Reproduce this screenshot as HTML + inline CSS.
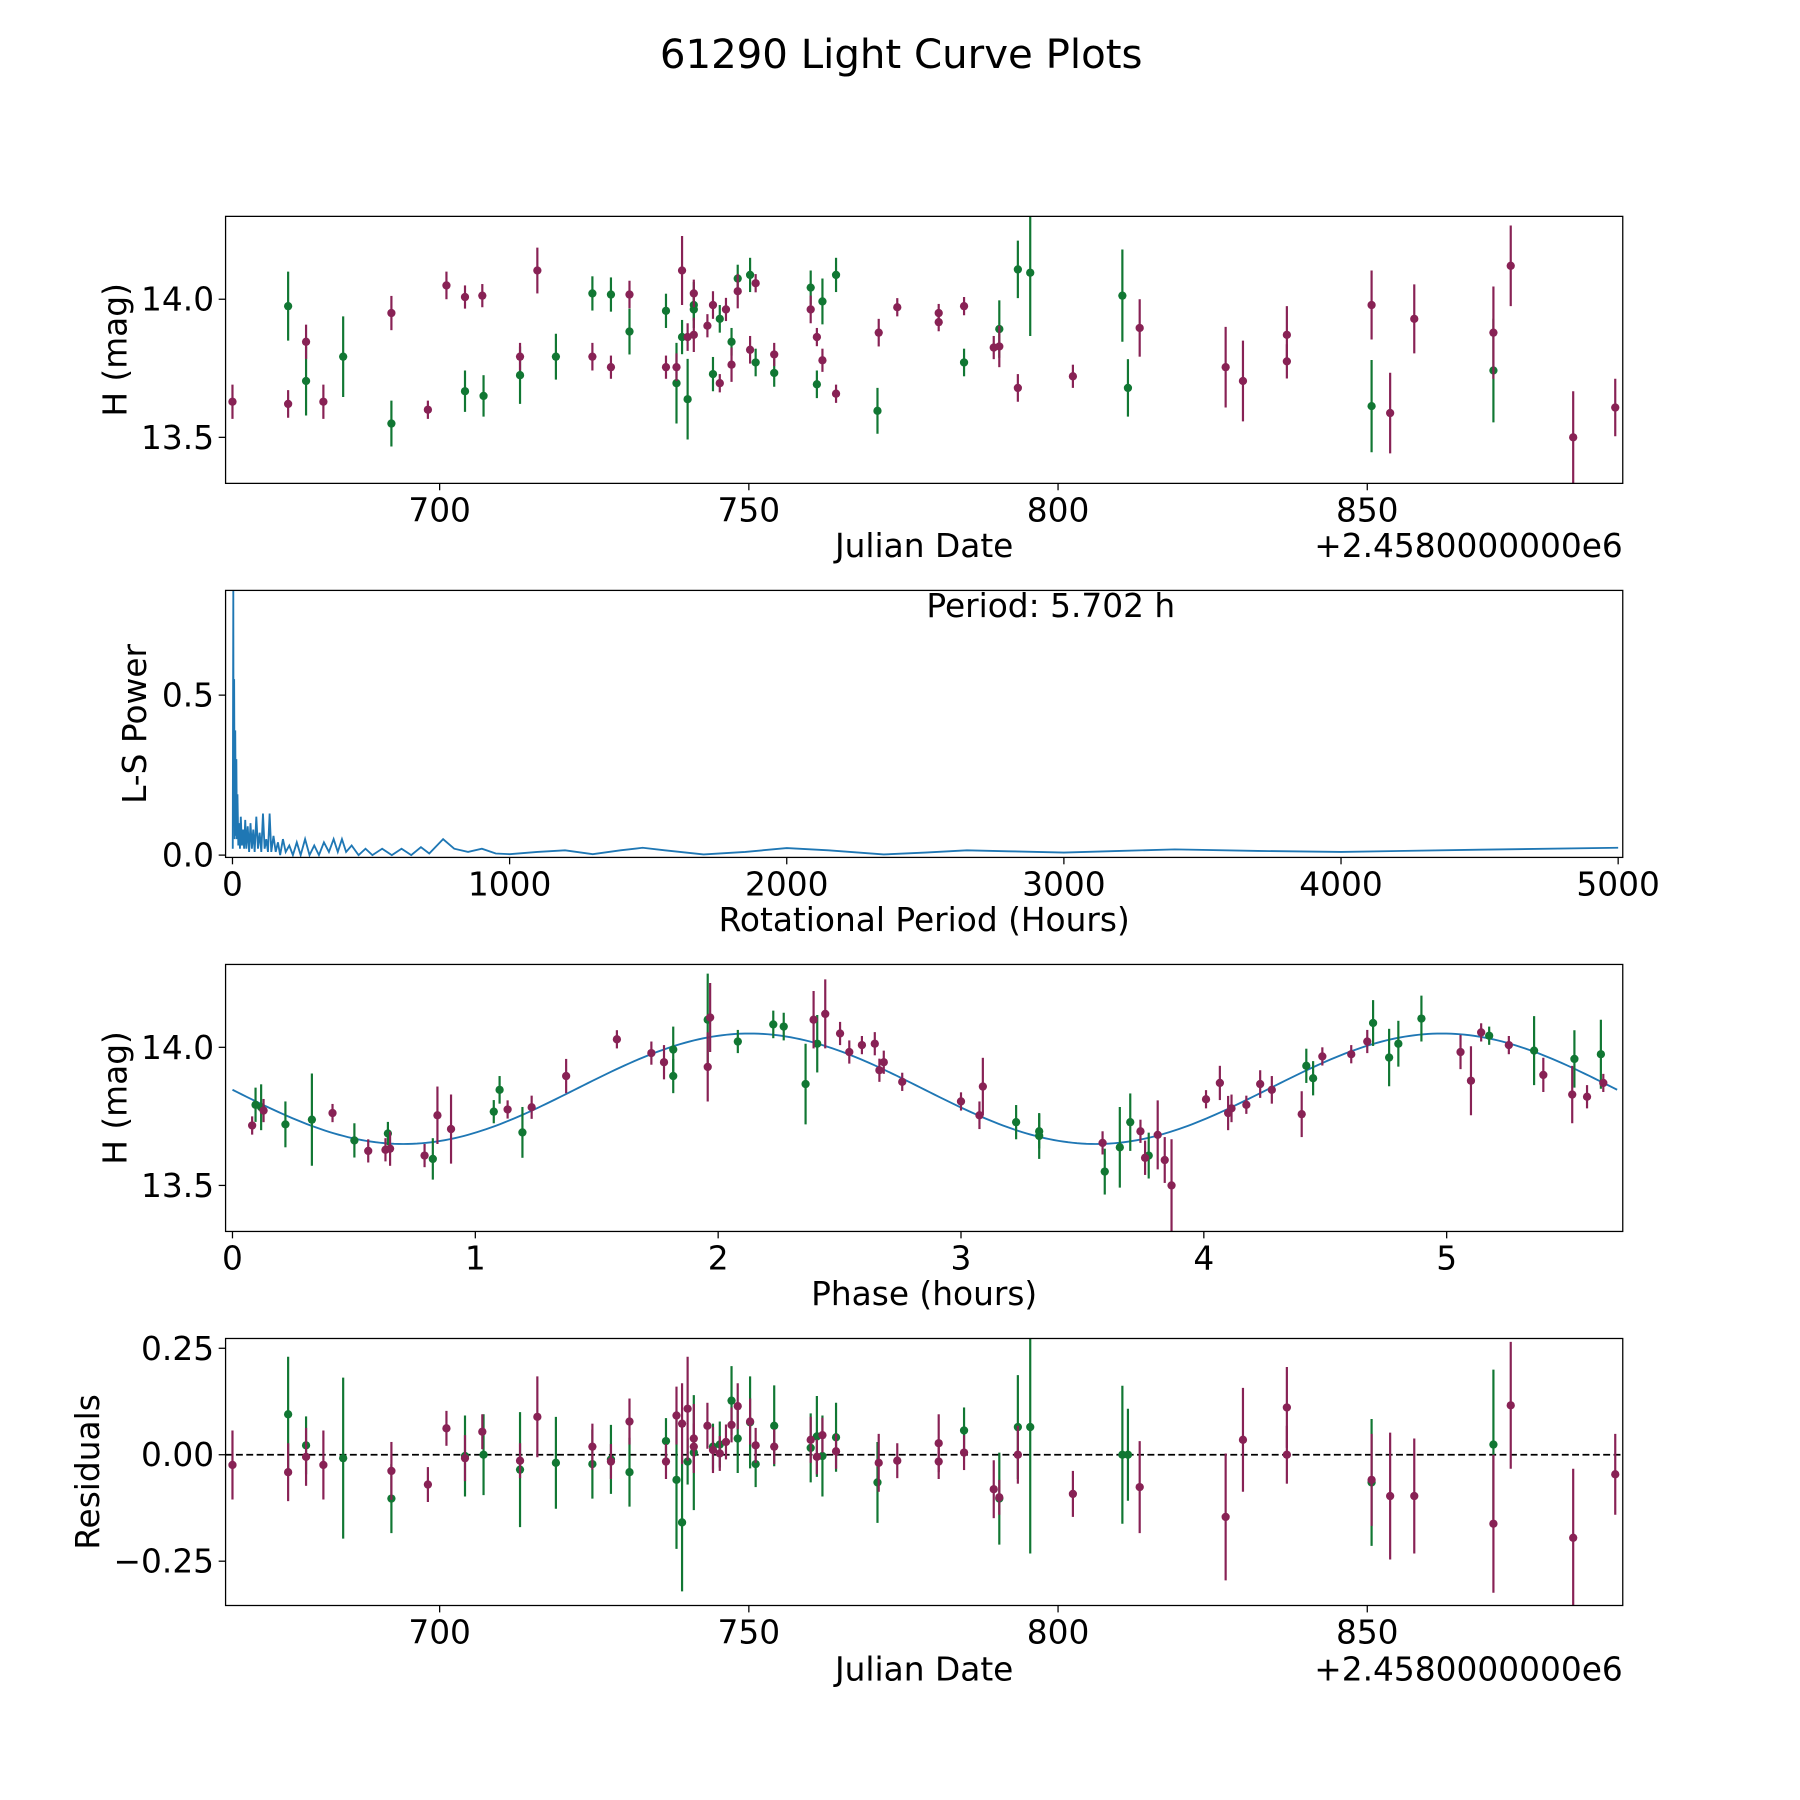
<!DOCTYPE html>
<html><head><meta charset="utf-8"><style>
html,body{margin:0;padding:0;background:#fff}
svg{display:block;font-family:"DejaVu Sans","Liberation Sans",sans-serif}
</style></head><body>
<svg id="fig" width="1800" height="1800" viewBox="0 0 1564 1564" xmlns="http://www.w3.org/2000/svg">
<rect x="0" y="0" width="1564" height="1564" fill="#fff"/>
<text x="783" y="59" font-size="35" text-anchor="middle">61290 Light Curve Plots</text>
</svg>
<script>
// ---- Panel 1: raw light curve ----
const p1Date=[666.5,675.5,675.5,678.4,678.4,681.2,684.4,692.2,692.2,698.1,701.1,704.1,704.1,706.9,707.1,713.0,713.0,715.8,718.8,724.7,724.7,727.7,727.7,730.7,730.7,736.6,736.6,738.3,738.3,739.2,739.2,740.1,740.1,741.1,741.1,741.1,741.1,743.3,744.2,744.2,745.3,745.3,746.3,747.2,747.2,748.2,748.2,750.2,750.2,751.1,751.1,754.1,754.1,760.0,760.0,761.0,761.0,761.9,761.9,764.1,764.1,770.8,771.0,774.0,780.7,780.7,784.8,784.8,789.6,790.5,790.5,793.5,793.5,795.5,802.4,810.4,811.3,813.2,827.1,829.9,837.0,837.0,850.7,850.7,853.7,857.6,870.4,870.4,873.2,883.3,890.1];
const p1Mag=[13.629,13.975,13.621,13.846,13.704,13.629,13.792,13.55,13.95,13.6,14.05,14.008,13.667,14.013,13.65,13.792,13.725,14.104,13.792,14.021,13.792,14.017,13.754,14.017,13.883,13.958,13.754,13.754,13.696,14.104,13.863,13.863,13.638,13.871,14.021,13.979,13.963,13.904,13.979,13.729,13.696,13.929,13.963,13.846,13.763,14.075,14.029,14.088,13.817,14.058,13.771,13.8,13.733,14.042,13.963,13.863,13.692,13.779,13.992,14.088,13.658,13.596,13.879,13.971,13.95,13.917,13.975,13.771,13.825,13.829,13.892,13.679,14.108,14.096,13.721,14.013,13.679,13.896,13.754,13.704,13.871,13.775,13.979,13.613,13.588,13.929,13.879,13.742,14.121,13.5,13.608];
const p1Err=[0.062,0.125,0.05,0.062,0.125,0.062,0.146,0.083,0.062,0.033,0.05,0.042,0.075,0.042,0.075,0.05,0.104,0.083,0.083,0.062,0.05,0.062,0.042,0.05,0.083,0.062,0.042,0.05,0.146,0.125,0.062,0.05,0.146,0.062,0.05,0.083,0.042,0.042,0.05,0.062,0.033,0.05,0.042,0.05,0.062,0.05,0.062,0.062,0.05,0.033,0.05,0.042,0.05,0.062,0.05,0.033,0.05,0.042,0.083,0.062,0.033,0.083,0.05,0.033,0.033,0.033,0.033,0.05,0.042,0.075,0.104,0.05,0.104,0.229,0.042,0.167,0.104,0.104,0.146,0.146,0.104,0.062,0.125,0.167,0.146,0.125,0.167,0.188,0.146,0.167,0.104];
const p1Band=["m","g","m","m","g","m","g","g","m","m","m","m","g","m","g","m","g","m","g","g","m","g","m","m","g","g","m","m","g","m","g","m","g","m","m","g","g","m","m","g","m","g","m","g","m","g","m","g","m","m","g","m","g","g","m","m","g","m","g","g","m","g","m","m","m","m","m","g","m","m","g","m","g","g","m","g","g","m","m","m","m","m","m","g","m","m","m","g","m","m","m"];

// ---- Panel 2: Lomb-Scargle periodogram ----
const lsPeriod=[1,3,4,6,8,10,12,14,16,18,21,24,27,30,34,38,42,46,50,55,60,65,70,75,80,86,92,98,104,110,116,122,128,134,140,148,156,164,172,182,192,205,218,232,246,262,278,295,312,330,348,365,380,395,410,430,455,480,505,540,575,610,645,680,710,760,800,850,900,950,1000,1100,1200,1300,1400,1480,1560,1700,1850,2000,2150,2350,2500,2650,2800,3000,3200,3400,3700,4000,4500,5000];
const lsPower=[0.02,0.83,0.1,0.55,0.05,0.39,0.06,0.3,0.05,0.19,0.03,0.1,0.02,0.12,0.03,0.08,0.02,0.11,0.02,0.09,0.01,0.1,0.02,0.08,0.01,0.12,0.02,0.07,0.01,0.13,0.02,0.05,0.01,0.13,0.01,0.06,0.01,0.04,0.0,0.05,0.01,0.03,0.0,0.04,0.0,0.05,0.0,0.03,0.0,0.04,0.01,0.05,0.01,0.05,0.01,0.03,0.0,0.02,0.0,0.02,0.0,0.02,0.0,0.025,0.005,0.05,0.02,0.01,0.02,0.005,0.003,0.01,0.015,0.003,0.015,0.023,0.015,0.002,0.01,0.022,0.015,0.002,0.008,0.015,0.012,0.008,0.013,0.018,0.013,0.01,0.017,0.023];
const bestPeriodLabel="Period: 5.702 h";

// ---- Panel 3: phased light curve ----
const phPhase=[0.081,0.095,0.118,0.128,0.218,0.327,0.412,0.502,0.559,0.630,0.640,0.649,0.791,0.825,0.844,0.900,1.076,1.100,1.133,1.194,1.232,1.374,1.583,1.725,1.777,1.815,1.815,1.957,1.957,1.967,2.081,2.227,2.270,2.360,2.393,2.408,2.441,2.502,2.540,2.592,2.645,2.664,2.682,2.758,3.0,3.076,3.090,3.227,3.322,3.322,3.583,3.592,3.654,3.697,3.739,3.758,3.773,3.810,3.839,3.867,4.009,4.066,4.100,4.114,4.175,4.232,4.280,4.403,4.422,4.450,4.488,4.607,4.673,4.697,4.763,4.801,4.896,5.057,5.100,5.142,5.175,5.256,5.360,5.398,5.517,5.526,5.578,5.635,5.645];
const phMag=[13.717,13.792,13.783,13.771,13.721,13.738,13.762,13.663,13.625,13.629,13.688,13.633,13.608,13.596,13.754,13.704,13.767,13.846,13.775,13.692,13.783,13.896,14.029,13.979,13.946,13.992,13.896,13.929,14.1,14.108,14.021,14.083,14.075,13.867,14.1,14.013,14.121,14.05,13.983,14.008,14.013,13.917,13.946,13.875,13.804,13.754,13.858,13.729,13.696,13.679,13.654,13.55,13.638,13.729,13.696,13.6,13.608,13.683,13.592,13.5,13.812,13.871,13.762,13.779,13.792,13.867,13.846,13.758,13.933,13.888,13.967,13.975,14.021,14.088,13.963,14.013,14.104,13.983,13.879,14.054,14.042,14.008,13.988,13.9,13.829,13.958,13.821,13.975,13.871];
const phErr=[0.033,0.062,0.083,0.042,0.083,0.167,0.033,0.062,0.042,0.042,0.042,0.062,0.042,0.075,0.104,0.125,0.042,0.05,0.033,0.092,0.042,0.062,0.033,0.042,0.062,0.083,0.062,0.125,0.167,0.125,0.042,0.05,0.05,0.146,0.104,0.104,0.125,0.042,0.042,0.033,0.042,0.042,0.042,0.033,0.033,0.05,0.104,0.062,0.062,0.083,0.042,0.083,0.146,0.104,0.042,0.062,0.083,0.125,0.083,0.167,0.033,0.062,0.062,0.05,0.033,0.05,0.05,0.083,0.062,0.062,0.033,0.033,0.042,0.083,0.104,0.083,0.083,0.062,0.125,0.033,0.033,0.033,0.125,0.062,0.104,0.104,0.042,0.125,0.033];
const phBand=["m","g","g","m","g","g","m","g","m","m","g","m","m","g","m","m","g","g","m","g","m","m","m","m","m","g","g","m","g","m","g","g","g","g","m","g","m","m","m","m","m","m","m","m","m","m","m","g","g","g","m","g","g","g","m","m","g","m","m","m","m","m","m","m","m","m","m","m","g","g","m","m","m","g","g","g","g","m","m","m","g","m","g","m","m","g","m","g","m"];
const fitParams=[13.85,0.2,2.13,2.851]; // mean, amplitude, phase of max, half-period

// ---- Panel 4: residuals ----
const resDate=[666.5,675.5,675.5,678.4,678.4,681.2,684.4,692.2,692.2,698.1,701.1,704.1,704.1,706.9,707.1,713,713,715.8,718.8,724.7,724.7,727.7,727.7,730.7,730.7,736.6,736.6,738.3,738.3,739.2,739.2,740.1,740.1,741.1,741.1,741.1,743.3,744.2,744.2,745.3,745.3,746.3,747.2,747.2,748.2,748.2,750.2,750.2,751.1,751.1,754.1,754.1,760,760,761,761,761.9,761.9,764.1,764.1,770.8,771,774,780.7,780.7,784.8,784.8,789.6,790.5,790.5,793.5,793.5,795.5,802.4,810.4,811.3,813.2,827.1,829.9,837,837,850.7,850.7,853.7,857.6,870.4,870.4,873.2,883.3,890.1];
const resVal=[-0.024,-0.041,0.095,0.022,-0.005,-0.024,-0.008,-0.038,-0.103,-0.07,0.062,-0.008,-0.003,0.054,0,-0.035,-0.014,0.089,-0.019,-0.022,0.019,-0.011,-0.016,0.078,-0.041,0.032,-0.016,0.092,-0.059,0.073,-0.159,0.108,-0.016,0.038,0.019,0.005,0.068,0.011,0.019,0.003,0.024,0.03,0.07,0.127,0.038,0.114,0.078,0.076,-0.022,0.022,0.068,0.019,0.016,0.035,-0.005,0.043,0.046,-0.003,0.041,0.008,-0.065,-0.019,-0.014,0.027,-0.016,0.005,0.057,-0.081,-0.1,-0.103,0,0.065,0.065,-0.092,0,0,-0.076,-0.146,0.035,0.111,0,-0.065,-0.059,-0.097,-0.097,0.024,-0.162,0.116,-0.195,-0.046];
const resErr=[0.081,0.068,0.135,0.068,0.068,0.081,0.189,0.068,0.081,0.041,0.041,0.054,0.095,0.041,0.095,0.135,0.041,0.095,0.108,0.081,0.054,0.081,0.041,0.054,0.081,0.054,0.041,0.068,0.162,0.095,0.162,0.122,0.054,0.081,0.054,0.135,0.054,0.054,0.054,0.041,0.054,0.041,0.041,0.081,0.081,0.054,0.054,0.108,0.054,0.041,0.095,0.041,0.081,0.054,0.041,0.095,0.041,0.095,0.081,0.041,0.095,0.068,0.041,0.068,0.041,0.041,0.054,0.068,0.041,0.108,0.068,0.122,0.297,0.054,0.162,0.108,0.108,0.149,0.122,0.095,0.068,0.149,0.108,0.149,0.135,0.176,0.162,0.149,0.162,0.095];
const resBand=["m","m","g","g","m","m","g","m","g","m","m","m","g","m","g","g","m","m","g","g","m","g","m","m","g","g","m","m","g","m","g","m","g","m","m","g","m","m","g","m","g","m","m","g","g","m","m","g","g","m","g","m","g","m","m","g","m","g","g","m","g","m","m","m","m","m","g","m","m","g","m","g","g","m","g","g","m","m","m","m","m","g","m","m","m","g","m","m","m","m"];

const NS="http://www.w3.org/2000/svg";
const svg=document.getElementById('fig');
const COL={m:"#882255",g:"#117733"};
const FS=28.5;
function mk(tag,attrs,parent){const e=document.createElementNS(NS,tag);for(const k in attrs)e.setAttribute(k,attrs[k]);(parent||svg).appendChild(e);return e;}
function txt(s,attrs,parent){const e=mk('text',attrs,parent);e.textContent=s;return e;}
function lin(d0,d1,r0,r1){return v=>r0+(v-d0)*(r1-r0)/(d1-d0);}

function axesFrame(name,L,T,R,B,xs,ys,xt,yt,xfmt,yfmt){
  const g=mk('g',{});
  
  
  const clip=mk('clipPath',{id:'clip-'+name},g);
  mk('rect',{x:L,y:T,width:R-L,height:B-T},clip);
  const xa=mk('g',{},g);
  
  
  xt.forEach(v=>{const x=xs(v);mk('line',{x1:x,x2:x,y1:B,y2:B+6,stroke:'#000','stroke-width':1.1},xa);
    const t=txt(xfmt(v),{x:x,y:B+33,'font-size':FS,'text-anchor':'middle'},xa);
    
    });
  const ya=mk('g',{},g);
  
  
  yt.forEach(v=>{const y=ys(v);mk('line',{x1:L-6,x2:L,y1:y,y2:y,stroke:'#000','stroke-width':1.1},ya);
    const t=txt(yfmt(v),{x:L-10,y:y+10,'font-size':FS,'text-anchor':'end'},ya);
    
    });
  const plot=mk('g',{'clip-path':'url(#clip-'+name+')'},g);
  
  
  mk('rect',{x:L,y:T,width:R-L,height:B-T,fill:'none',stroke:'#000','stroke-width':1.1},g);
  return plot;
}
function errPoints(plot,xs,ys,X,Y,E,B,label){
  for(const band of ["g","m"]){
  X.forEach((v,i)=>{ if(B[i]!==band)return;
    const x=xs(v),y=ys(Y[i]),c=COL[B[i]];
    const l=mk('line',{x1:x,x2:x,y1:ys(Y[i]-E[i]),y2:ys(Y[i]+E[i]),stroke:c,'stroke-width':1.9},plot);
    
    
    const p=mk('circle',{cx:x,cy:y,r:3.6,fill:c},plot);
    
    
  });}
}
function label(s,x,y,rot,name){
  const t=txt(s,{x:x,y:y,'font-size':FS,'text-anchor':'middle',transform:rot?`rotate(-90 ${x} ${y})`:''});
  
  
}
const f1=v=>v.toFixed(1), f0=v=>String(v), f2=v=>(v<0?'\u2212'+Math.abs(v).toFixed(2):v.toFixed(2));

// Panel 1
{const xs=lin(700,850,382,1188),ys=lin(14,13.5,260,380);
 const plot=axesFrame('light-curve-panel',196,188,1410,420,xs,ys,[700,750,800,850],[13.5,14.0],f0,f1);
 errPoints(plot,xs,ys,p1Date,p1Mag,p1Err,p1Band,'observation');
 label('Julian Date',803,484,false,'x-axis-title-julian-date');
 label('H (mag)',110,304,true,'y-axis-title-h-mag');
 const o=txt('+2.4580000000e6',{x:1410,y:484,'font-size':FS,'text-anchor':'end'});
 
 }

// Panel 2
{const xs=lin(0,5000,202,1406),ys=lin(0,0.5,743,604);
 const plot=axesFrame('periodogram-panel',196,513,1410,745,xs,ys,[0,1000,2000,3000,4000,5000],[0.0,0.5],f0,f1);
 const d=lsPeriod.map((p,i)=>(i?'L':'M')+xs(p).toFixed(2)+','+ys(lsPower[i]).toFixed(2)).join(' ');
 const pl=mk('path',{d:d,fill:'none',stroke:'#1f77b4','stroke-width':1.6},plot);
 
 
 const t=txt(bestPeriodLabel,{x:913,y:536,'font-size':FS,'text-anchor':'middle'});
 
 
 label('Rotational Period (Hours)',803,809,false,'x-axis-title-period');
 label('L-S Power',127,629,true,'y-axis-title-ls-power');}

// Panel 3
{const xs=lin(0,5,202,1257),ys=lin(14,13.5,910,1030);
 const plot=axesFrame('phased-panel',196,838,1410,1070,xs,ys,[0,1,2,3,4,5],[13.5,14.0],f0,f1);
 let d='';const [mu,A,p0,P]=fitParams;
 for(let k=0;k<=300;k++){const p=k*5.702/300;const y=mu+A*Math.cos(2*Math.PI*(p-p0)/P);d+=(k?'L':'M')+xs(p).toFixed(2)+','+ys(y).toFixed(2)+' ';}
 const fl=mk('path',{d:d,fill:'none',stroke:'#1f77b4','stroke-width':1.6},plot);
 
 
 errPoints(plot,xs,ys,phPhase,phMag,phErr,phBand,'phased-observation');
 label('Phase (hours)',803,1134,false,'x-axis-title-phase');
 label('H (mag)',110,954,true,'y-axis-title-phased-h-mag');}

// Panel 4
{const xs=lin(700,850,382,1188),ys=lin(0,0.25,1264,1171.5);
 const plot=axesFrame('residuals-panel',196,1163,1410,1395,xs,ys,[700,750,800,850],[-0.25,0,0.25],f0,f2);
 const z=mk('line',{x1:196,x2:1410,y1:ys(0),y2:ys(0),stroke:'#000','stroke-width':1.5,'stroke-dasharray':'6,3'},plot);
 
 
 errPoints(plot,xs,ys,resDate,resVal,resErr,resBand,'residual');
 label('Julian Date',803,1460,false,'x-axis-title-residual-date');
 label('Residuals',86,1279,true,'y-axis-title-residuals');
 const o=txt('+2.4580000000e6',{x:1410,y:1460,'font-size':FS,'text-anchor':'end'});
 
 }
</script>
</body></html>
